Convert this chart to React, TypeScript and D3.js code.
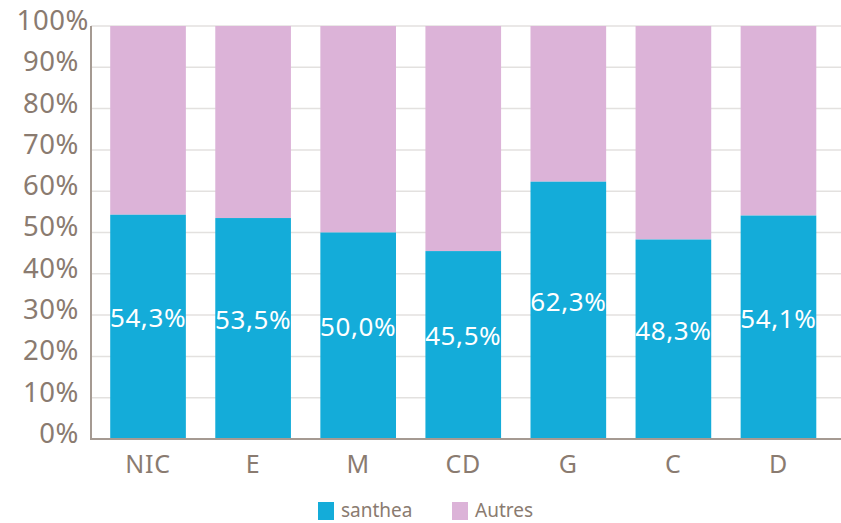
import React from "react";
import * as d3 from "d3";

const categories = ["NIC", "E", "M", "CD", "G", "C", "D"];
const santhea = [54.3, 53.5, 50.0, 45.5, 62.3, 48.3, 54.1];
const yTicks = [0, 10, 20, 30, 40, 50, 60, 70, 80, 90, 100];
const seriesNames = ["santhea", "Autres"];

const BLUE = "#14acd9";
const PINK = "#dcb3d8";
const TEXT = "#8a7b70";
const FONT = "'Noto Sans', 'Open Sans', sans-serif";

export default function App() {
  const W = 841, H = 523;
  const x = d3.scaleBand<string>().domain(categories).range([95.5, 831]).paddingInner(0.28).paddingOuter(0.14);
  const y = d3.scaleLinear().domain([0, 100]).range([439, 26]);
  const fmt = (v: number) => v.toFixed(1).replace(".", ",") + "%";
  return (
    <svg width={W} height={H} style={{ position: "absolute", left: 0, top: 0, background: "#fff" }}>
      {yTicks.map((t) => (
        <g key={t}>
          <line x1={91} x2={841} y1={y(t)} y2={y(t)} stroke="#e3e1df" strokeWidth={1.5} />
          <text x={t === 100 ? 89 : 79} y={y(t) - 6} dy="0.36em" textAnchor="end" fontFamily={FONT} fontSize={27.5} fill={TEXT} letterSpacing={0.6}>
            {t}%
          </text>
        </g>
      ))}
      {categories.map((c, i) => {
        const v = santhea[i];
        const bx = x(c)!;
        const bw = x.bandwidth();
        return (
          <g key={c}>
            <rect x={bx} y={y(100)} width={bw} height={y(v) - y(100)} fill={PINK} />
            <rect x={bx} y={y(v)} width={bw} height={y(0) - y(v)} fill={BLUE} />
            <text x={bx + bw / 2} y={(y(v) + y(0)) / 2 - 9} dy="0.36em" textAnchor="middle" fontFamily={FONT} fontSize={26} fill="#fff" letterSpacing={0.6}>
              {fmt(v)}
            </text>
            <text x={bx + bw / 2} y={464} dy="0.36em" textAnchor="middle" fontFamily={FONT} fontSize={25} fill={TEXT} letterSpacing={0.8}>
              {c}
            </text>
          </g>
        );
      })}
      <line x1={91} x2={91} y1={26} y2={439} stroke="#a59a92" strokeWidth={2} />
      <line x1={90} x2={841} y1={439} y2={439} stroke="#a59a92" strokeWidth={2} />
      {seriesNames.map((s, i) => {
        const lx = i === 0 ? 318 : 452;
        return (
          <g key={s}>
            <rect x={lx} y={502} width={16} height={18} fill={i === 0 ? BLUE : PINK} />
            <text x={lx + 23} y={510} dy="0.36em" fontFamily={FONT} fontSize={19} fill={TEXT}>
              {s}
            </text>
          </g>
        );
      })}
    </svg>
  );
}
